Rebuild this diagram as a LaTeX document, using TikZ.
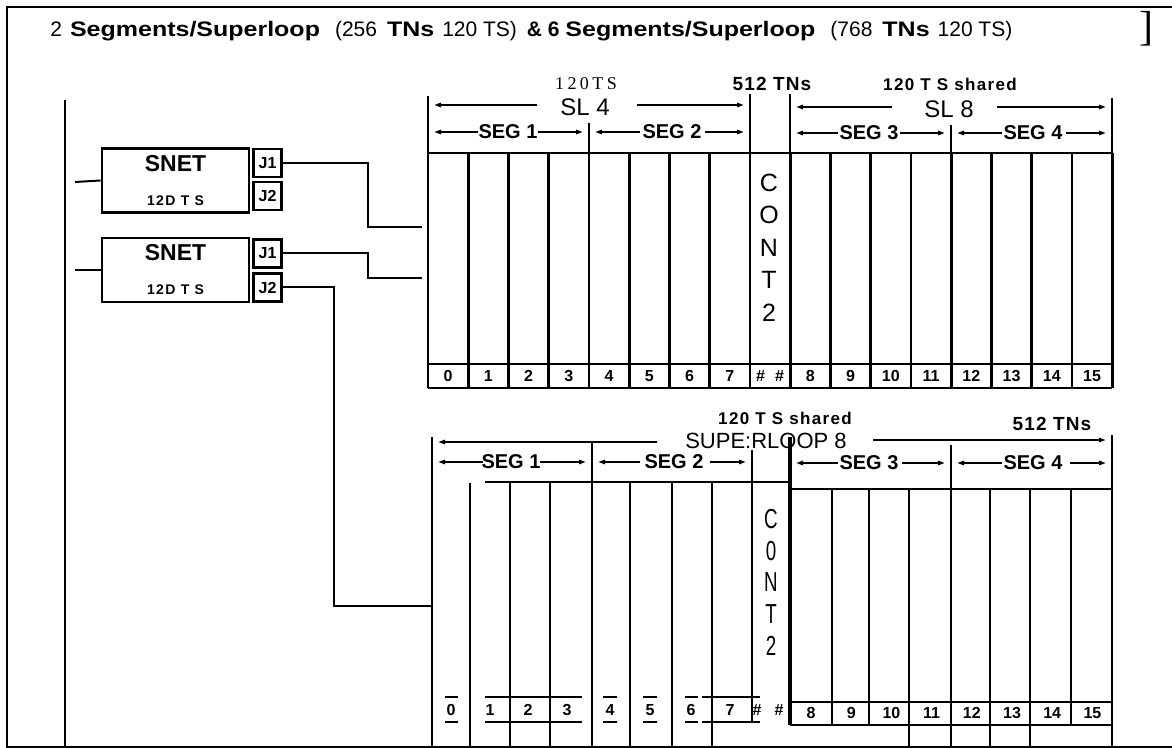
\documentclass[tikz,border=0pt]{standalone}
\usepackage{fontspec}
\setmainfont{Liberation Sans}
\newfontfamily\timesface{Liberation Serif}
\usepackage{graphicx}
\usetikzlibrary{arrows.meta}
\newcommand\widebold[1]{\scalebox{1.19}[1]{\bfseries #1}}
\tikzset{%
  rack/.style={line width=1.3pt},
  dimtick/.style={line width=1.1pt},
  wire/.style={line width=1pt},
  dimarrow/.style={line width=1.2pt, -{Latex[length=5.5pt,width=2.4pt]}},
  seglabel/.style={font=\bfseries\fontsize{10}{10}\selectfont, inner sep=1pt},
  sllabel/.style={font=\fontsize{12}{12}\selectfont, inner sep=1pt},
  numlabel/.style={font=\bfseries\fontsize{8}{8}\selectfont, inner sep=0pt},
  contletter/.style={font=\fontsize{12.5}{12}\selectfont, inner sep=0pt},
  tnslabel/.style={font=\bfseries\fontsize{9.5}{10}\selectfont\addfontfeatures{LetterSpace=6}, inner sep=1pt},
  sharedlabel/.style={font=\bfseries\fontsize{8.5}{9}\selectfont\addfontfeatures{LetterSpace=8}, inner sep=1pt},
  snetbox/.style={draw, line width=1.4pt, minimum width=73.5pt, minimum height=32pt, inner sep=0pt, align=center},
  jackbox/.style={draw, line width=1.2pt, minimum width=14pt, minimum height=14pt, inner sep=0pt, font=\bfseries\fontsize{8}{8}\selectfont},
}

\begin{document}
\begin{tikzpicture}[x=0.5pt, y=-0.5pt]
    \useasboundingbox (0,0) rectangle (1172,748);
    % frame
    \draw[line width=1pt] (1172,7) -- (7,7) -- (7,748);
    \draw[line width=1pt] (7,747) -- (1172,747);
    \draw[line width=0.9pt] (65,100) -- (65,748);
    \node[font=\timesface\fontsize{21}{21}\selectfont, inner sep=0pt] (pagemark) at (1146,29) {]};

    % title
    \node[anchor=base west, inner sep=0pt, font=\fontsize{10.5}{12}\selectfont] (title) at (50,37)
      {2\hspace{4pt}\widebold{Segments/Superloop}\hspace{7.5pt}(256\hspace{5pt}\widebold{TNs}\hspace{4pt}120 TS)\hspace{5pt}\textbf{\& 6 }\widebold{Segments/Superloop}\hspace{7.5pt}(768\hspace{5pt}\widebold{TNs}\hspace{4pt}120 TS)};

    %upper superloops SL 4 / SL 8
    \def\slotw{40.25}
    \foreach \k in {0,...,17}
      \draw[rack] ({428+\slotw*\k},153) -- ({428+\slotw*\k},388);
    \draw[rack] (428,153) -- (1112,153);
    \draw[rack] (428,364) -- (1112,364);
    \draw[rack] (428,388) -- (1112,388);
    \foreach \n in {0,...,7}
      \node[numlabel] (up\n) at ({448+\slotw*\n},376) {\n};
    \foreach \n in {8,...,15}
      \node[numlabel] (up\n) at ({448+\slotw*(\n+1)},376) {\n};
    \node[numlabel] (uphash) at (770,376) {\#\hspace{5pt}\#};
    \foreach \c [count=\i] in {C,O,N,T,2}
      \node[contletter] (uc\i) at (769,{150+32.5*\i}) {\c};

    % dimension lines above the upper rack
    \node[font=\timesface\fontsize{9}{9}\selectfont\addfontfeatures{LetterSpace=19}, inner sep=0pt, anchor=base] (ts4) at (586,90) {120TS};
    \node[tnslabel, anchor=base] (tn4) at (772,91) {512 TNs};
    \node[sharedlabel, anchor=base] (sh8) at (950,91) {120 T S shared};
    \draw[dimtick] (428,96) -- (428,153);
    \draw[dimtick] (750,94) -- (750,153);
    \draw[dimtick] (790,94) -- (790,153);
    \draw[dimtick] (1112,98) -- (1112,153);
    \draw[dimtick] (589,123) -- (589,153);
    \draw[dimtick] (951,125) -- (951,153);
    \node[sllabel] (sl4) at (585,107) {SL 4};
    \draw[dimarrow] (537,105) -- (430,105);
    \draw[dimarrow] (637,105) -- (748,105);
    \node[sllabel] (sl8) at (949,109) {SL 8};
    \draw[dimarrow] (892,107) -- (792,107);
    \draw[dimarrow] (997,107) -- (1110,107);
    \node[seglabel] (useg1) at (508,132) {SEG 1};
    \draw[dimarrow] (478,132) -- (430,132);
    \draw[dimarrow] (538,132) -- (587,132);
    \node[seglabel] (useg2) at (672,132) {SEG 2};
    \draw[dimarrow] (640,132) -- (591,132);
    \draw[dimarrow] (705,132) -- (748,132);
    \node[seglabel] (useg3) at (869,133) {SEG 3};
    \draw[dimarrow] (838,133) -- (792,133);
    \draw[dimarrow] (900,133) -- (949,133);
    \node[seglabel] (useg4) at (1033,133) {SEG 4};
    \draw[dimarrow] (1002,133) -- (953,133);
    \draw[dimarrow] (1066,133) -- (1110,133);

    % SNET cards
    \node[snetbox] (snet1) at (175.5,180.5) {\bfseries\fontsize{11.5}{12}\selectfont SNET\\[5pt]\bfseries\fontsize{7}{8}\selectfont\addfontfeatures{LetterSpace=10}12D T S};
    \node[jackbox] (s1j1) at (267.5,163) {J1};
    \node[jackbox] (s1j2) at (267.5,196) {J2};
    \node[snetbox] (snet2) at (175.5,270) {\bfseries\fontsize{11.5}{12}\selectfont SNET\\[5pt]\bfseries\fontsize{7}{8}\selectfont\addfontfeatures{LetterSpace=10}12D T S};
    \node[jackbox] (s2j1) at (267.5,253.5) {J1};
    \node[jackbox] (s2j2) at (267.5,287.5) {J2};
    \coordinate (s1in) at (75,182);
    \coordinate (s2in) at (75,270);
    \coordinate (sl4in1) at (422,227);
    \coordinate (sl4in2) at (422,278);
    \coordinate (sl8in) at (432,606);
    \draw[wire] (s1in) -- (snet1.west);
    \draw[wire] (s2in) -- (snet2.west);
    \draw[wire] (s1j1.east) -- ++(85,0) |- (sl4in1);
    \draw[wire] (s2j1.east) -- ++(85,0) |- (sl4in2);
    \draw[wire] (s2j2.east) -- ++(51,0) |- (sl8in);

    %lower superloop 8
    \node[sharedlabel] (sh8b) at (785,418) {120 T S shared};
    \node[tnslabel] (tn8) at (1052,424) {512 TNs};
    \node[sllabel, font=\fontsize{11}{11}\selectfont] (sl8b) at (766,441) {SUPE:RLOOP 8};
    \draw[dimarrow] (657,442) -- (434,442);
    \draw[dimarrow] (873,440) -- (1110,440);
    \node[seglabel] (lseg1) at (511,462) {SEG 1};
    \draw[dimarrow] (483,462) -- (434,462);
    \draw[dimarrow] (540,462) -- (590,462);
    \node[seglabel] (lseg2) at (674,462) {SEG 2};
    \draw[dimarrow] (640,462) -- (594,462);
    \draw[dimarrow] (710,462) -- (750,462);
    \node[seglabel] (lseg3) at (869,463) {SEG 3};
    \draw[dimarrow] (838,463) -- (792,463);
    \draw[dimarrow] (902,463) -- (949,463);
    \node[seglabel] (lseg4) at (1033,463) {SEG 4};
    \draw[dimarrow] (1002,463) -- (953,463);
    \draw[dimarrow] (1070,463) -- (1110,463);

    \draw[rack] (485,482) -- (790,482);
    \draw[rack] (790,489) -- (1112,489);
    \draw[rack] (432,437) -- (432,748);
    \foreach \x in {470,510,550,630,672,712}
      \draw[rack] (\x,483) -- (\x,748);
    \draw[rack] (592,443) -- (592,748);
    \draw[rack] (752,450) -- (752,722);
    \draw[line width=2.2pt] (790,437) -- (790,725);
    \foreach \x in {832,869,1071}
      \draw[rack] (\x,489) -- (\x,725);
    \foreach \x in {909,990,1030}
      \draw[rack] (\x,489) -- (\x,748);
    \draw[rack] (951,445) -- (951,748);
    \draw[rack] (1112,435) -- (1112,748);
    \draw[rack] (790,702) -- (1112,702);
    \draw[rack] (790,725) -- (1112,725);
    \foreach \a/\b in {445/458,485/582,603/617,643/657,685/698,702/760}
      \draw[rack] (\a,697) -- (\b,697) (\a,722) -- (\b,722);
    \foreach \n/\x in {0/451,1/490,2/528,3/567,4/610,5/650,6/691,7/730}
      \node[numlabel] (lo\n) at (\x,710) {\n};
    \node[numlabel] (lohash1) at (757,710) {\#};
    \node[numlabel] (lohash2) at (779,710) {\#};
    \foreach \n in {8,...,15}
      \node[numlabel] (lo\n) at ({811+40.2*(\n-8)},713) {\n};
    \foreach \c [count=\i] in {C,0,N,T,2}
      \node[contletter] (lc\i) at (771,{488+31.5*\i}) {\scalebox{0.75}[1.1]{\c}};
\end{tikzpicture}
\end{document}
